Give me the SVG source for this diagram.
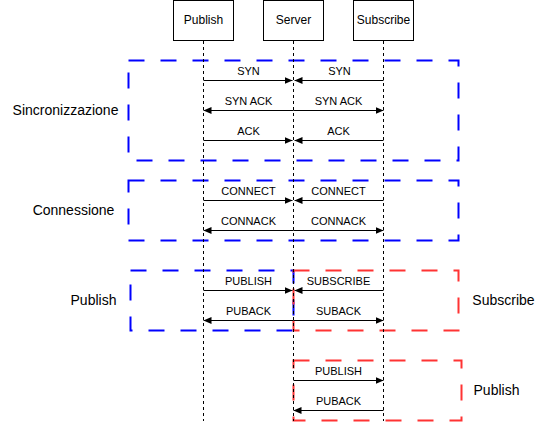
<svg xmlns="http://www.w3.org/2000/svg" width="548" height="422" viewBox="0 0 548 422">
<style>
text{font-family:"Liberation Sans",Arial,sans-serif;fill:#000}
.box{fill:#fff;stroke:#000;stroke-width:1}
.bl{font-size:12px;text-anchor:middle}
.lbl{font-size:11px;text-anchor:middle}
.side{font-size:14px;text-anchor:middle}
.life{stroke:#000;stroke-width:1;stroke-dasharray:3 3;fill:none}
.grpB{fill:none;stroke:#0000FF;stroke-width:2;stroke-dasharray:16 16}
.grpR{fill:none;stroke:#FF3333;stroke-width:2;stroke-dasharray:16 16}
.msg{stroke:#000;stroke-width:1;fill:none;marker-end:url(#ah)}
</style>
<defs>
<marker id="ah" markerUnits="userSpaceOnUse" viewBox="0 0 8 8" refX="8" refY="4" markerWidth="8" markerHeight="8" orient="auto">
<path d="M0,0.5 L8,4 L0,7.5 Z" fill="#000"/>
</marker>
</defs>
<g id="groups">
<rect id="grp-sync" class="grpB" x="128.5" y="60.5" width="330" height="100"/>
<rect id="grp-conn" class="grpB" x="128.5" y="180.5" width="330" height="60"/>
<rect id="grp-pub" class="grpB" x="130.5" y="270.5" width="163" height="60"/>
<rect id="grp-sub" class="grpR" x="293.5" y="270.5" width="165" height="60"/>
<rect id="grp-pub2" class="grpR" x="293.5" y="360.5" width="168" height="60"/>
</g>
<g id="side-labels">
<text class="side" x="65.5" y="115">Sincronizzazione</text>
<text class="side" x="73.5" y="215">Connessione</text>
<text class="side" x="93.5" y="305">Publish</text>
<text class="side" x="503.5" y="305">Subscribe</text>
<text class="side" x="496.5" y="395">Publish</text>
</g>
<g id="node-publish">
<rect class="box" x="173.5" y="0.5" width="60" height="40"/>
<text class="bl" x="203.5" y="24">Publish</text>
</g>
<g id="node-server">
<rect class="box" x="263.5" y="0.5" width="60" height="40"/>
<text class="bl" x="293.5" y="24">Server</text>
</g>
<g id="node-subscribe">
<rect class="box" x="353.5" y="0.5" width="60" height="40"/>
<text class="bl" x="383.5" y="24">Subscribe</text>
</g>
<g id="connectors">
<line class="life" x1="203.5" y1="41" x2="203.5" y2="421"/>
<line class="life" x1="293.5" y1="41" x2="293.5" y2="421"/>
<line class="life" x1="383.5" y1="41" x2="383.5" y2="421"/>

<line class="msg" x1="203.5" y1="80.5" x2="292.5" y2="80.5"/>
<line class="msg" x1="383.5" y1="80.5" x2="294.5" y2="80.5"/>
<line class="msg" x1="293.5" y1="110.5" x2="203.5" y2="110.5"/>
<line class="msg" x1="293.5" y1="110.5" x2="383.5" y2="110.5"/>
<line class="msg" x1="203.5" y1="140.5" x2="292.5" y2="140.5"/>
<line class="msg" x1="383.5" y1="140.5" x2="294.5" y2="140.5"/>

<line class="msg" x1="203.5" y1="200.5" x2="292.5" y2="200.5"/>
<line class="msg" x1="383.5" y1="200.5" x2="294.5" y2="200.5"/>
<line class="msg" x1="293.5" y1="230.5" x2="203.5" y2="230.5"/>
<line class="msg" x1="293.5" y1="230.5" x2="383.5" y2="230.5"/>

<line class="msg" x1="203.5" y1="290.5" x2="292.5" y2="290.5"/>
<line class="msg" x1="383.5" y1="290.5" x2="294.5" y2="290.5"/>
<line class="msg" x1="293.5" y1="320.5" x2="203.5" y2="320.5"/>
<line class="msg" x1="293.5" y1="320.5" x2="383.5" y2="320.5"/>

<line class="msg" x1="293.5" y1="380.5" x2="383.5" y2="380.5"/>
<line class="msg" x1="383.5" y1="410.5" x2="293.5" y2="410.5"/>
</g>
<g id="connector-labels">
<text class="lbl" x="248.5" y="75">SYN</text>
<text class="lbl" x="339.5" y="75">SYN</text>
<text class="lbl" x="248.5" y="105">SYN ACK</text>
<text class="lbl" x="338.5" y="105">SYN ACK</text>
<text class="lbl" x="248.5" y="135">ACK</text>
<text class="lbl" x="338.5" y="135">ACK</text>
<text class="lbl" x="248.5" y="195">CONNECT</text>
<text class="lbl" x="338.5" y="195">CONNECT</text>
<text class="lbl" x="248.5" y="225">CONNACK</text>
<text class="lbl" x="338.5" y="225">CONNACK</text>
<text class="lbl" x="248.5" y="285">PUBLISH</text>
<text class="lbl" x="338.5" y="285">SUBSCRIBE</text>
<text class="lbl" x="248.5" y="315">PUBACK</text>
<text class="lbl" x="338.5" y="315">SUBACK</text>
<text class="lbl" x="338.5" y="375">PUBLISH</text>
<text class="lbl" x="338.5" y="405">PUBACK</text>
</g>
</svg>
